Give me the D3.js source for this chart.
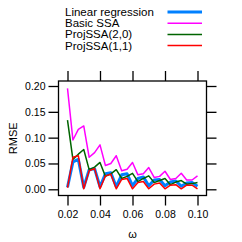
<!DOCTYPE html>
<html>
<head>
<meta charset="utf-8">
<script src="https://cdn.jsdelivr.net/npm/d3@7"></script>
<style>
  body { margin: 0; background: #fff; }
  text { font-family: "Liberation Sans", Arial, sans-serif; fill: #000; }
</style>
</head>
<body>
<div id="chart"></div>
<script>
(function() {

    var width = 242, height = 242;

    // omega = k/300, k = 6..30
    var omega = d3.range(6, 31).map(function(k) { return k / 300; });

    var linreg  = [0.004, 0.053, 0.058, 0.004, 0.038, 0.040, 0.005, 0.030, 0.032, 0.005, 0.028, 0.030, 0.007,
                   0.021, 0.024, 0.007, 0.018, 0.019, 0.007, 0.014, 0.016, 0.006, 0.012, 0.013, 0.006];
    var basic   = [0.1955, 0.0955, 0.116, 0.1226, 0.062, 0.071, 0.086, 0.046, 0.050, 0.065, 0.036, 0.039, 0.052,
                   0.028, 0.030, 0.042, 0.023, 0.025, 0.035, 0.019, 0.021, 0.031, 0.018, 0.018, 0.026];
    var proj20  = [0.134, 0.058, 0.068, 0.077, 0.038, 0.043, 0.052, 0.025, 0.030, 0.038, 0.021, 0.025, 0.031,
                   0.015, 0.021, 0.026, 0.013, 0.017, 0.021, 0.009, 0.014, 0.017, 0.010, 0.011, 0.013];
    var proj11  = [0.003, 0.062, 0.065, 0.001, 0.036, 0.040, 0.001, 0.026, 0.029, 0.001, 0.019, 0.021, 0.001,
                   0.013, 0.015, 0.001, 0.010, 0.012, 0.001, 0.008, 0.009, 0.001, 0.008, 0.008, 0.001];

    var seriesNames = ["Linear regression", "Basic SSA", "ProjSSA(2,0)", "ProjSSA(1,1)"];
    var seriesColors = ["#0080ff", "#ff00ff", "#006400", "#ff0000"];
    var seriesWidths = [3, 1.5, 1.5, 1.5];
    var seriesValues = [linreg, basic, proj20, proj11];

    var xTicks = [0.02, 0.04, 0.06, 0.08, 0.10];
    var yTicks = [0.00, 0.05, 0.10, 0.15, 0.20];

    // panel box
    var box = {left: 58.5, right: 206.5, top: 81, bottom: 195.5};

    var x = d3.scaleLinear().domain([0.02, 0.10]).range([67.5, 197.5]);
    var y = d3.scaleLinear().domain([0, 0.20]).range([189.3, 86]);

    var svg = d3.select("#chart")
        .append("svg")
        .attr("width", width)
        .attr("height", height);

    var tickLen = 10;

    // axes on all four sides (lattice style)
    svg.append("g")
        .attr("transform", "translate(0," + box.bottom + ")")
        .call(d3.axisBottom(x).tickValues(xTicks).tickSize(tickLen).tickPadding(5)
            .tickFormat(d3.format(".2f")))
        .call(function(g) { g.select(".domain").remove(); });

    svg.append("g")
        .attr("transform", "translate(0," + box.top + ")")
        .call(d3.axisTop(x).tickValues(xTicks).tickSize(tickLen).tickFormat(""))
        .call(function(g) { g.select(".domain").remove(); });

    svg.append("g")
        .attr("transform", "translate(" + box.left + ",0)")
        .call(d3.axisLeft(y).tickValues(yTicks).tickSize(tickLen).tickPadding(3)
            .tickFormat(d3.format(".2f")))
        .call(function(g) { g.select(".domain").remove(); });

    svg.append("g")
        .attr("transform", "translate(" + box.right + ",0)")
        .call(d3.axisRight(y).tickValues(yTicks).tickSize(tickLen).tickFormat(""))
        .call(function(g) { g.select(".domain").remove(); });

    svg.selectAll(".tick line").attr("stroke", "#000").attr("stroke-width", 1.3);
    svg.selectAll(".tick text")
        .style("font-family", '"Liberation Sans", Arial, sans-serif')
        .style("font-size", "10.5px");

    // lines, clipped to panel
    svg.append("clipPath").attr("id", "clip")
        .append("rect")
        .attr("x", box.left).attr("y", box.top)
        .attr("width", box.right - box.left).attr("height", box.bottom - box.top);

    var line = d3.line()
        .x(function(d, i) { return x(omega[i]); })
        .y(function(d) { return y(d); });

    svg.append("g").attr("clip-path", "url(#clip)")
        .selectAll(".series")
        .data(seriesValues)
        .enter().append("path")
        .attr("class", "series")
        .attr("d", line)
        .attr("fill", "none")
        .attr("stroke", function(d, i) { return seriesColors[i]; })
        .attr("stroke-width", function(d, i) { return seriesWidths[i]; })
        .attr("stroke-linejoin", "round");

    svg.append("rect")
        .attr("x", box.left).attr("y", box.top)
        .attr("width", box.right - box.left).attr("height", box.bottom - box.top)
        .attr("fill", "none")
        .attr("stroke", "#000")
        .attr("stroke-width", 1.3);

    // axis titles
    svg.append("text")
        .attr("x", (box.left + box.right) / 2)
        .attr("y", 238)
        .attr("text-anchor", "middle")
        .style("font-size", "11px")
        .text("ω");

    svg.append("text")
        .attr("transform", "translate(13," + ((box.top + box.bottom) / 2) + ") rotate(-90)")
        .attr("text-anchor", "middle")
        .attr("dy", "0.35em")
        .style("font-size", "11px")
        .text("RMSE");

    // key
    var key = svg.append("g").selectAll(".key")
        .data(seriesNames)
        .enter().append("g")
        .attr("class", "key")
        .attr("transform", function(d, i) { return "translate(0," + (12 + i * 11.2) + ")"; });

    key.append("text")
        .attr("x", 65)
        .attr("dy", "0.35em")
        .style("font-size", "11.5px")
        .text(function(d) { return d; });

    key.append("line")
        .attr("x1", 167.5).attr("x2", 202)
        .attr("stroke", function(d, i) { return seriesColors[i]; })
        .attr("stroke-width", function(d, i) { return seriesWidths[i]; });

})();
</script>
</body>
</html>
